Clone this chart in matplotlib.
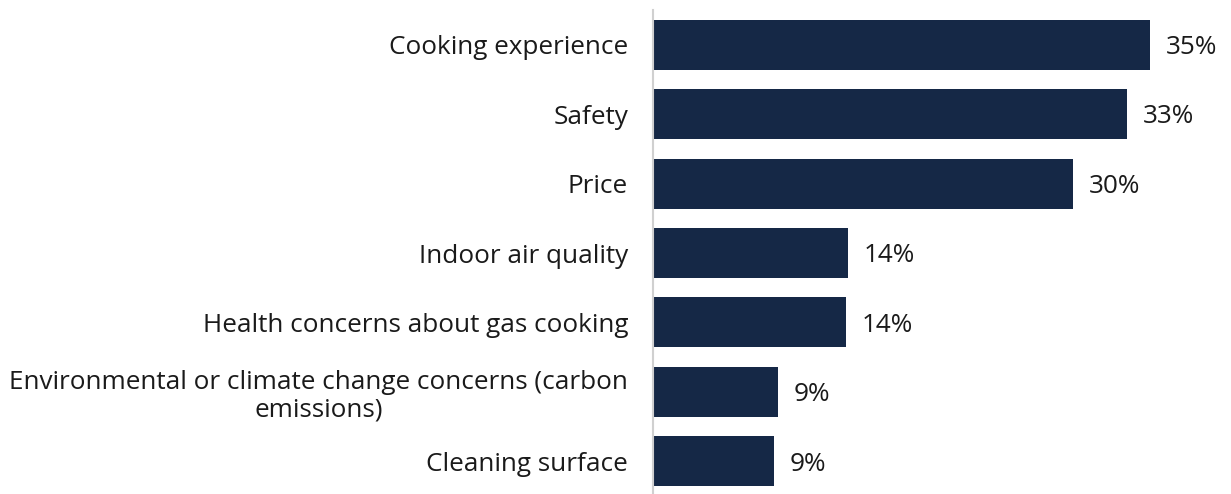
import matplotlib
matplotlib.use("Agg")
import matplotlib.pyplot as plt

categories = [
    "Cooking experience",
    "Safety",
    "Price",
    "Indoor air quality",
    "Health concerns about gas cooking",
    "Environmental or climate change concerns (carbon\nemissions)",
    "Cleaning surface",
]
values = [35.0, 33.4, 29.6, 13.7, 13.6, 8.8, 8.5]
value_labels = ["35%", "33%", "30%", "14%", "14%", "9%", "9%"]

bar_color = "#152846"

plt.rcParams['font.family'] = ['Open Sans', 'DejaVu Sans']

W, H = 1231, 494
fig = plt.figure(figsize=(W / 100, H / 100), dpi=100)
left = 653 / W
top = 1 - 10 / H
bottom = 1 - 496 / H
ax = fig.add_axes([left, bottom, 1 - left, top - bottom])

y = list(range(len(categories)))
ax.barh(y, values, height=0.72, color=bar_color, edgecolor="none")
ax.set_ylim(len(categories) - 0.5, -0.5)
ax.set_xlim(0, (W - 653) / 14.2)

for yi, v, lab in zip(y, values, value_labels):
    ax.text(v + 1.1, yi + 0.04, lab, va="center", ha="left", fontsize=18.8, color="#1a1a1a")

ax.set_yticks(y)
ax.set_yticklabels(categories, fontsize=18.8, color="#1a1a1a", multialignment="center",
                   linespacing=1.12)
ax.tick_params(axis="y", length=0, pad=18)
ax.set_xticks([])
for s in ["top", "right", "bottom"]:
    ax.spines[s].set_visible(False)
ax.spines["left"].set_color("#d0d0d0")
ax.spines["left"].set_linewidth(1.5)

fig.savefig("out.png", dpi=100)
